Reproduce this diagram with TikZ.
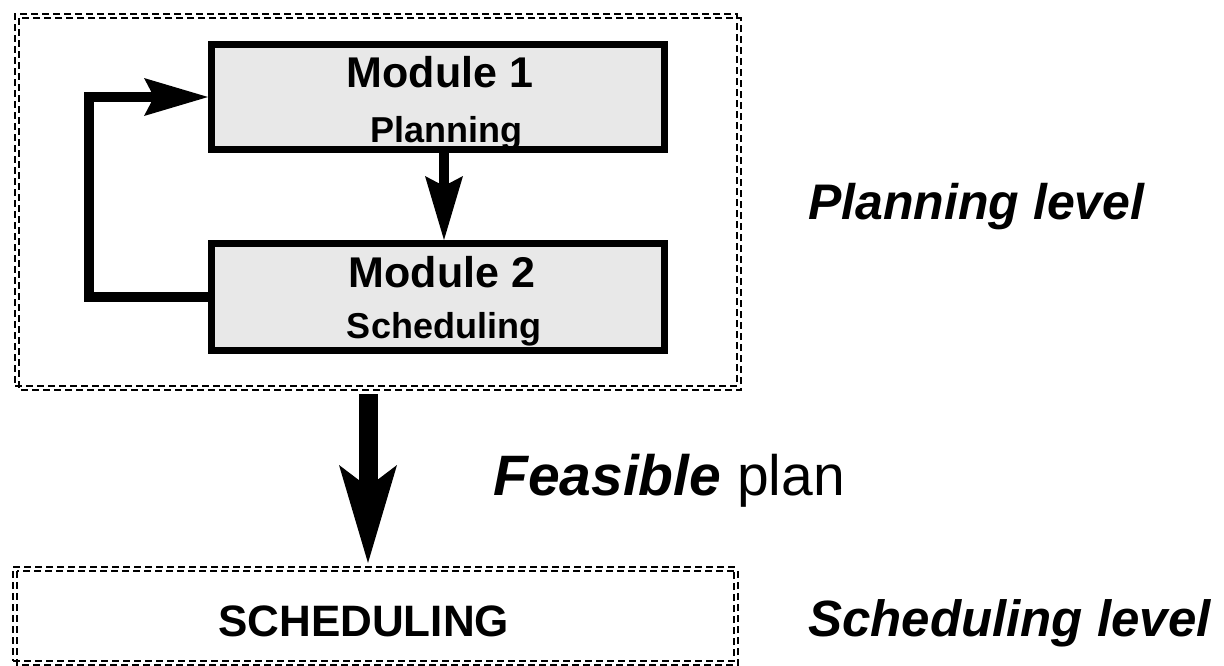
\documentclass[tikz,border=0pt]{standalone}
\usepackage{fontspec}
\setmainfont{Liberation Sans}
\usetikzlibrary{arrows.meta}

\tikzset{
  modbox/.style={draw, line width=7pt, fill=black!9, minimum width=453pt, minimum height=#1, inner sep=0pt},
  levelbox/.style={draw, line width=1.8pt, dash pattern=on 7pt off 4pt, inner sep=0pt, outer sep=0pt},
  dashline/.style={line width=1.8pt, dash pattern=on 7pt off 4pt},
  flow/.style={line width=10pt, line join=miter,
    -{Stealth[length=64pt, width=38pt, inset=10pt, line width=0pt]}},
  bigflow/.style={line width=19pt,
    -{Stealth[length=98pt, width=58pt, inset=22pt, line width=0pt]}},
  lbl/.style={inner sep=0pt, anchor=base, font=\bfseries},
}
\newcommand{\fsz}[1]{\fontsize{#1}{#1}\selectfont}

\begin{document}
\begin{tikzpicture}[x=1pt, y=-1pt]
\useasboundingbox (0,0) rectangle (1224,665);

% planning level frame (double dashed outline)
\node[levelbox, minimum width=722pt, minimum height=372pt] (planbox) at (376,200) {};
\draw[dashline] ([shift={(4pt,-4pt)}]planbox.north west) rectangle ([shift={(4pt,-4pt)}]planbox.south east);

% scheduling level frame
\node[levelbox, minimum width=721pt, minimum height=94pt] (schedbox) at (373.5,614) {};
\draw[dashline] ([shift={(4pt,-4pt)}]schedbox.north west) rectangle ([shift={(4pt,-4pt)}]schedbox.south east);

% the two modules
\node[modbox=105pt] (m1) at (438,97) {};
\node[modbox=107pt] (m2) at (438,297) {};

\node[lbl, font=\bfseries\fsz{43}] (m1a) at (440,87) {Module 1};
\node[lbl, font=\bfseries\fsz{36}] (m1b) at (446,142) {Planning};
\node[lbl, font=\bfseries\fsz{43}] (m2a) at (442,287) {Module 2};
\node[lbl, font=\bfseries\fsz{36}] (m2b) at (444,338) {Scheduling};

% module connectors
\coordinate (ax) at (444,0);
\coordinate (fb) at (89,200);
\draw[flow] (m1.south -| ax) -- (m2.north -| ax);
\draw[flow] (m2.west) -| (fb) |- (m1.west);

% hand-over of the plan
\coordinate (bx) at (368,0);
\draw[bigflow, shorten <=8pt, shorten >=4pt] (planbox.south -| bx) -- (schedbox.north -| bx);

% labels
\node[inner sep=0pt, anchor=base west, font=\bfseries\itshape\fsz{50}] (lvl1) at (808,219) {Planning level};
\node[inner sep=0pt, anchor=base west, font=\fsz{57}] (feas) at (493,495) {\textbf{\textit{Feasible}} plan};
\node[inner sep=0pt, anchor=base west, font=\bfseries\fsz{44}] (sched) at (218,636) {SCHEDULING};
\node[inner sep=0pt, anchor=base west, font=\bfseries\itshape\fsz{51}] (lvl2) at (808,636) {Scheduling level};
\end{tikzpicture}
\end{document}
